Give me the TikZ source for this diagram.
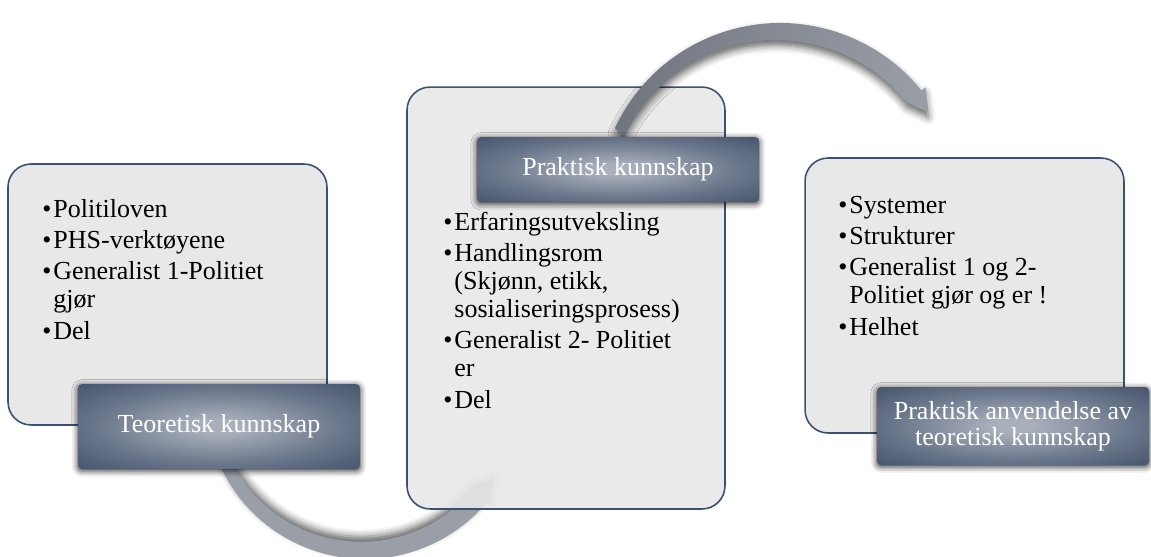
\documentclass[tikz,border=0pt]{standalone}
\usepackage{fontspec}
\setmainfont{Liberation Serif}
\usepackage{tikz}
\usetikzlibrary{calc,shadows.blur}

\definecolor{rand}{HTML}{3B5170}
\definecolor{boksfyll}{HTML}{E8E8E8}
\definecolor{etikettinn}{HTML}{A9B0BC}
\definecolor{etikettut}{HTML}{2A3B58}
\definecolor{pilmork}{HTML}{70747E}
\definecolor{pilmid}{HTML}{9A9EA7}
\definecolor{pillys}{HTML}{C6CAD2}
\pgfdeclareradialshading{etikett}{\pgfpoint{0bp}{0bp}}{color(0bp)=(etikettinn); color(4bp)=(etikettinn); color(22bp)=(etikettinn!50!etikettut); color(46bp)=(etikettut); color(80bp)=(etikettut)}

\newcommand{\pkt}{\spaceskip=0pt\xspaceskip=0pt\hangindent=6.3pt\hangafter=1\makebox[6.3pt][l]{\textbullet}}

\begin{document}
\begin{tikzpicture}[x=0.02cm,y=-0.02cm,
    boks/.style={draw=rand,line width=0.9pt,fill=boksfyll,rounded corners=0.46cm},
    etikett/.style={shade,shading=etikett,rounded corners=0.08cm,text=white,align=center,
        font=\fontsize{14.8}{15}\selectfont,
        blur shadow={shadow xshift=0pt,shadow yshift=-1pt,shadow blur radius=3.5pt,shadow opacity=85}},
    liste/.style={anchor=base west,inner sep=0pt,text width=6cm,align=flush left,
        font=\fontsize{14.8}{15.9}\selectfont,execute at begin node={\setlength{\parskip}{2pt}}},
    pil/.style={shade,middle color=pillys}]
    \useasboundingbox (0,0) rectangle (1151,556);

    % venstre
    \node[boks,minimum width=6.38cm,minimum height=5.22cm] (b1) at (167.5,294.5) {};
    \node[liste] (t1) at (42,217) {\pkt Politiloven\par \pkt PHS-verktøyene\par
        \pkt Generalist 1-Politiet\newline gjør\par \pkt Del};

    \coordinate (m1) at (365,400);
    \path[pil,left color=pilmid,right color=pilmid,
        blur shadow={shadow xshift=0pt,shadow yshift=3pt,shadow blur radius=4pt,shadow opacity=60}]
        ($(m1)+(156:159)$) arc[start angle=156,end angle=40,radius=159]
        -- ($(m1)+(40:164)$) -- ($(m1)+(33:152)$) -- ($(m1)+(40:140)$)
        arc[start angle=40,end angle=156,radius=145] -- cycle;

    \node[etikett,minimum width=5.64cm,minimum height=1.70cm] (l1) at (219,426.5) {Teoretisk kunnskap};

    % midten
    \node[boks,fill opacity=0.9,minimum width=6.36cm,minimum height=8.44cm] (b2) at (566,298) {};
    \node[liste] (t2) at (443,230) {\pkt Erfaringsutveksling\par
        \pkt Handlingsrom\newline (Skjønn, etikk,\newline sosialiseringsprosess)\par
        \pkt Generalist 2- Politiet\newline er\par \pkt Del};

    \coordinate (m2) at (780,205);
    \path[pil,left color=pilmork,right color=pilmid,
        blur shadow={shadow xshift=0pt,shadow yshift=-3pt,shadow blur radius=4pt,shadow opacity=60}]
        ($(m2)+(205:182)$) arc[start angle=205,end angle=321,radius=182]
        -- ($(m2)+(321:187)$) -- ($(m2)+(328:175)$) -- ($(m2)+(321:163)$)
        arc[start angle=321,end angle=205,radius=168] -- cycle;

    \node[etikett,minimum width=5.64cm,minimum height=1.30cm] (l2) at (618,169.5) {Praktisk kunnskap};

    % hoyre
    \node[boks,minimum width=6.38cm,minimum height=5.5cm] (b3) at (964.5,295.5) {};
    \node[liste] (t3) at (838,213) {\pkt Systemer\par \pkt Strukturer\par
        \pkt Generalist 1 og 2-\newline Politiet gjør og er !\par \pkt Helhet};

    \node[etikett,minimum width=5.44cm,minimum height=1.56cm] (l3) at (1013,426) {Praktisk anvendelse av\\teoretisk kunnskap};
\end{tikzpicture}
\end{document}
